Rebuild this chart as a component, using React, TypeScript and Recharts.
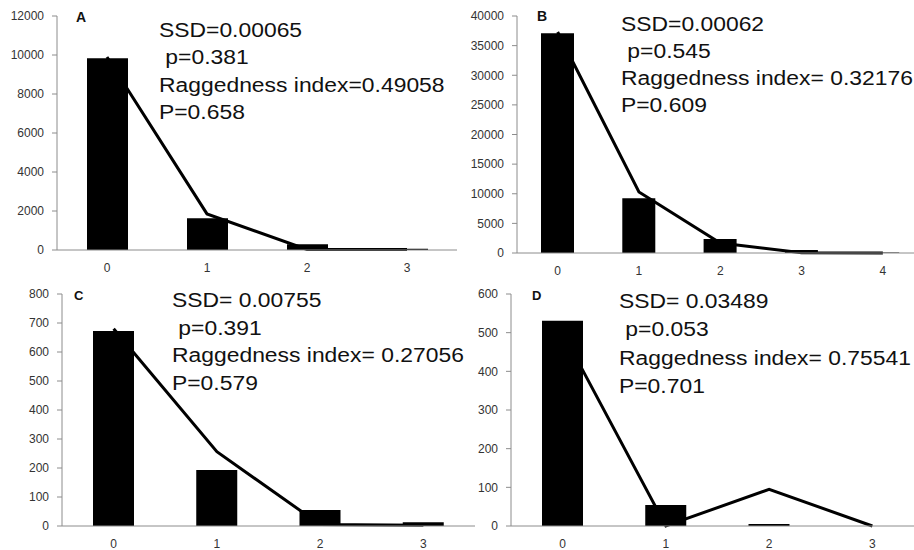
import { ComposedChart, Bar, Line, XAxis, YAxis } from "recharts";

// panel A
const catsA = ["0", "1", "2", "3"];
const observedA = [9830, 1625, 300, 60];
const expectedA = [9900, 1850, 30, 20];
const ticksA = [0, 2000, 4000, 6000, 8000, 10000, 12000];
const notesA = ["SSD=0.00065", " p=0.381", "Raggedness index=0.49058", "P=0.658"];

// panel B
const catsB = ["0", "1", "2", "3", "4"];
const observedB = [37100, 9250, 2350, 500, 100];
const expectedB = [37300, 10300, 1700, 60, 20];
const ticksB = [0, 5000, 10000, 15000, 20000, 25000, 30000, 35000, 40000];
const notesB = ["SSD=0.00062", " p=0.545", "Raggedness index= 0.32176", "P=0.609"];

// panel C
const catsC = ["0", "1", "2", "3"];
const observedC = [672, 193, 55, 13];
const expectedC = [680, 256, 5, 3];
const ticksC = [0, 100, 200, 300, 400, 500, 600, 700, 800];
const notesC = ["SSD= 0.00755", " p=0.391", "Raggedness index= 0.27056", "P=0.579"];

// panel D
const catsD = ["0", "1", "2", "3"];
const observedD = [531, 54, 5, 0];
const expectedD = [500, 0, 95, 0];
const ticksD = [0, 100, 200, 300, 400, 500, 600];
const notesD = ["SSD= 0.03489", " p=0.053", "Raggedness index= 0.75541", "P=0.701"];

const axisGray = "#8c8c8c";
const labelGray = "#333";
const font = "'Liberation Sans', Arial, sans-serif";

type PanelProps = {
  cats: string[];
  observed: number[];
  expected: number[];
  ticks: number[];
  left: number;
  top: number;
  width: number;
  height: number;
  yWidth: number;
  barSize: number;
  margin: { top: number; right: number; bottom: number; left: number };
};

function Panel(p: PanelProps) {
  const rows = p.cats.map((c, i) => ({ cat: c, observed: p.observed[i], expected: p.expected[i] }));
  const n = p.cats.length;
  // excel style ticks sit between the categories
  const edges = [...p.cats.map((_, i) => i - 0.5), n - 0.5];
  const tickFont = { fontSize: 12, fill: labelGray, fontFamily: font };

  return (
    <div style={{ position: "absolute", left: p.left, top: p.top }}>
      <ComposedChart width={p.width} height={p.height} data={rows} margin={p.margin}>
        <XAxis
          xAxisId="cat"
          dataKey="cat"
          height={1}
          interval={0}
          axisLine={{ stroke: axisGray }}
          tickLine={false}
          tickSize={5}
          tickMargin={8}
          tick={tickFont}
        />
        <XAxis
          xAxisId="edge"
          type="number"
          domain={[-0.5, n - 0.5]}
          ticks={edges}
          height={1}
          axisLine={false}
          tick={false}
          tickLine={{ stroke: axisGray }}
          tickSize={5}
        />
        <YAxis
          width={p.yWidth}
          domain={[0, p.ticks[p.ticks.length - 1]]}
          ticks={p.ticks}
          interval={0}
          axisLine={{ stroke: axisGray }}
          tickLine={{ stroke: axisGray }}
          tickSize={5}
          tickMargin={8}
          tick={tickFont}
        />
        <Bar xAxisId="cat" dataKey="observed" fill="#000" barSize={p.barSize} isAnimationActive={false} />
        <Line
          xAxisId="cat"
          type="linear"
          dataKey="expected"
          stroke="#000"
          strokeWidth={3}
          dot={false}
          activeDot={false}
          isAnimationActive={false}
        />
      </ComposedChart>
    </div>
  );
}

function Notes({ lines, x, y, gap }: { lines: string[]; x: number; y: number; gap: number }) {
  return (
    <>
      {lines.map((t, i) => (
        <text
          key={i}
          transform={`translate(${x},${y + i * gap}) scale(1.09,1)`}
          fontSize={21}
          fontFamily={font}
          fill="#111"
          style={{ whiteSpace: "pre" }}
        >
          {t}
        </text>
      ))}
    </>
  );
}

export default function App() {
  return (
    <div
      style={{
        position: "absolute",
        left: 0,
        top: 0,
        width: 914,
        height: 550,
        overflow: "hidden",
        background: "#fff",
        fontFamily: font,
      }}
    >
      <Panel
        cats={catsA}
        observed={observedA}
        expected={expectedA}
        ticks={ticksA}
        left={0}
        top={0}
        width={470}
        height={280}
        yWidth={57}
        barSize={41}
        margin={{ top: 16, right: 13, bottom: 28, left: 0 }}
      />
      <Panel
        cats={catsB}
        observed={observedB}
        expected={expectedB}
        ticks={ticksB}
        left={460}
        top={0}
        width={470}
        height={283}
        yWidth={57}
        barSize={33}
        margin={{ top: 16, right: 6.5, bottom: 28, left: 0 }}
      />
      <Panel
        cats={catsC}
        observed={observedC}
        expected={expectedC}
        ticks={ticksC}
        left={0}
        top={270}
        width={490}
        height={280}
        yWidth={62}
        barSize={41}
        margin={{ top: 24, right: 15, bottom: 22, left: 0 }}
      />
      <Panel
        cats={catsD}
        observed={observedD}
        expected={expectedD}
        ticks={ticksD}
        left={460}
        top={270}
        width={470}
        height={280}
        yWidth={51}
        barSize={41}
        margin={{ top: 24, right: 6, bottom: 22, left: 0 }}
      />
      <svg
        width={914}
        height={550}
        style={{ position: "absolute", left: 0, top: 0, pointerEvents: "none" }}
      >
        <text x={76} y={22} fontSize={14} fontWeight="bold" fontFamily={font} fill="#111">A</text>
        <text x={537} y={21} fontSize={14} fontWeight="bold" fontFamily={font} fill="#111">B</text>
        <text x={74} y={300} fontSize={13} fontWeight="bold" fontFamily={font} fill="#111">C</text>
        <text x={532} y={300} fontSize={13} fontWeight="bold" fontFamily={font} fill="#111">D</text>
        <Notes lines={notesA} x={159} y={37} gap={27.3} />
        <Notes lines={notesB} x={621} y={31} gap={27} />
        <Notes lines={notesC} x={172} y={307} gap={27.7} />
        <Notes lines={notesD} x={619} y={308} gap={28.3} />
      </svg>
    </div>
  );
}
